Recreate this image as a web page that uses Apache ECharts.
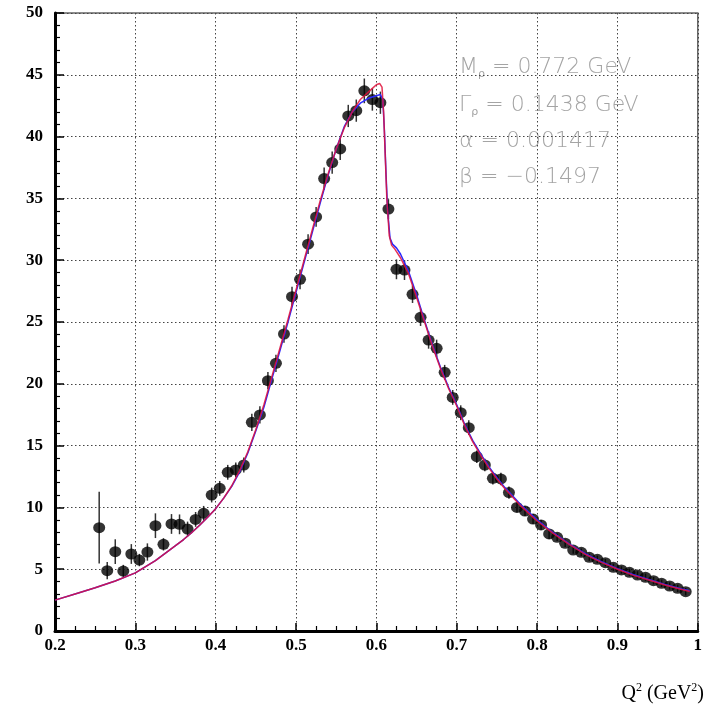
<!DOCTYPE html>
<html>
<head>
<meta charset="utf-8">
<script src="https://cdn.jsdelivr.net/npm/echarts@6/dist/echarts.min.js"></script>
<style>html,body{margin:0;padding:0;background:#fff}#c{width:705px;height:707px}</style>
</head>
<body>
<div id="c"></div>
<script>
// data points: Q^2 (GeV^2), value, error
const ptX = [0.255,0.265,0.275,0.285,0.295,0.305,0.315,0.325,0.335,0.345,0.355,0.365,0.375,0.385,0.395,0.405,0.415,0.425,0.435,0.445,0.455,0.465,0.475,0.485,0.495,0.505,0.515,0.525,0.535,0.545,0.555,0.565,0.575,0.585,0.595,0.605,0.615,0.625,0.635,0.645,0.655,0.665,0.675,0.685,0.695,0.705,0.715,0.725,0.735,0.745,0.755,0.765,0.775,0.785,0.795,0.805,0.815,0.825,0.835,0.845,0.855,0.865,0.875,0.885,0.895,0.905,0.915,0.925,0.935,0.945,0.955,0.965,0.975,0.985];
const ptY = [8.36,4.88,6.42,4.85,6.23,5.74,6.39,8.52,7.01,8.66,8.63,8.25,9.03,9.52,11.0,11.54,12.84,13.03,13.43,16.88,17.48,20.25,21.66,24.03,27.05,28.45,31.3,33.5,36.6,37.9,39.0,41.67,42.1,43.7,43.0,42.74,34.14,29.26,29.2,27.24,25.38,23.54,22.87,20.93,18.9,17.66,16.45,14.1,13.43,12.35,12.3,11.2,10.0,9.7,9.06,8.58,7.85,7.58,7.1,6.55,6.37,5.96,5.8,5.53,5.15,4.94,4.75,4.53,4.34,4.07,3.86,3.64,3.45,3.18];
const ptErr = [2.9,0.7,1.0,0.5,0.8,0.5,0.7,1.0,0.5,0.8,0.8,0.6,0.6,0.6,0.6,0.6,0.6,0.6,0.6,0.7,0.7,0.7,0.7,0.7,0.8,0.8,0.8,0.8,0.9,0.9,0.9,0.9,0.9,1.0,0.9,0.9,0.8,0.8,0.8,0.7,0.7,0.7,0.7,0.6,0.6,0.6,0.6,0.5,0.5,0.5,0.5,0.5,0.4,0.4,0.4,0.4,0.4,0.3,0.3,0.3,0.3,0.3,0.3,0.3,0.3,0.3,0.3,0.3,0.3,0.3,0.3,0.3,0.3,0.3];

// fitted curves
const redX = [0.2,0.225,0.25,0.275,0.3,0.325,0.35,0.36,0.37,0.38,0.39,0.4,0.41,0.42,0.43,0.44,0.45,0.46,0.47,0.48,0.49,0.5,0.51,0.52,0.53,0.54,0.55,0.56,0.57,0.58,0.59,0.595,0.6,0.604,0.607,0.609,0.611,0.613,0.616,0.619,0.623,0.63,0.64,0.65,0.66,0.67,0.68,0.69,0.7,0.71,0.72,0.73,0.74,0.75,0.76,0.77,0.78,0.79,0.8,0.82,0.84,0.86,0.88,0.9,0.92,0.94,0.96,0.98,0.99];
const redY = [2.5,3.0,3.5,4.05,4.7,5.7,6.9,7.4,7.95,8.55,9.2,9.9,10.75,11.75,13.0,14.5,16.3,18.3,20.6,22.9,25.2,27.6,30.0,32.4,34.8,37.0,39.0,40.7,42.0,43.0,43.6,43.9,44.2,44.3,44.0,42.0,38.5,35.0,32.0,31.2,30.9,30.2,28.9,27.0,25.0,23.0,21.2,19.6,18.2,16.6,15.3,14.2,13.2,12.3,11.5,10.8,10.1,9.5,8.9,7.9,7.0,6.2,5.55,5.0,4.5,4.1,3.7,3.35,3.2];
const blueX = [0.2,0.225,0.25,0.275,0.3,0.325,0.35,0.36,0.37,0.38,0.39,0.4,0.41,0.42,0.43,0.44,0.45,0.46,0.47,0.48,0.49,0.5,0.51,0.52,0.53,0.54,0.55,0.56,0.57,0.58,0.59,0.595,0.6,0.605,0.608,0.61,0.612,0.614,0.617,0.62,0.625,0.63,0.64,0.65,0.66,0.67,0.68,0.69,0.7,0.71,0.72,0.73,0.74,0.75,0.76,0.77,0.78,0.79,0.8,0.82,0.84,0.86,0.88,0.9,0.92,0.94,0.96,0.98,0.99];
const blueY = [2.5,3.0,3.5,4.05,4.7,5.7,6.9,7.4,7.95,8.55,9.2,9.9,10.75,11.7,12.9,14.4,16.2,18.1,20.4,22.7,25.0,27.4,29.8,32.2,34.6,36.9,39.0,40.8,42.0,42.7,43.1,43.2,43.3,43.4,43.0,40.5,37.0,34.0,31.8,31.3,31.0,30.5,29.1,27.2,25.1,23.1,21.3,19.7,18.3,16.7,15.4,14.3,13.3,12.4,11.6,10.9,10.2,9.6,9.0,7.95,7.05,6.25,5.6,5.05,4.55,4.15,3.75,3.4,3.25];

const xTickLabels = ['0.2','0.3','0.4','0.5','0.6','0.7','0.8','0.9','1'];
const yTickLabels = ['0','5','10','15','20','25','30','35','40','45','50'];
const annotations = [
  ['M', 'ρ', ' = 0.772 GeV'],
  ['Γ', 'ρ', ' = 0.1438 GeV'],
  ['α', '', ' = 0.001417'],
  ['β', '', ' = −0.1497']
];

const chart = echarts.init(document.getElementById('c'), null, {renderer: 'canvas'});
const zipPts = (xs, ys) => xs.map((x, i) => [x, ys[i]]);
const errData = ptX.map((x, i) => [x, ptY[i] - ptErr[i], ptY[i] + ptErr[i]]);
const gridStyle = {show: true, lineStyle: {type: [1.5, 2.5], color: '#444', width: 1}};
const labelFont = {fontFamily: 'Liberation Serif', fontWeight: 'bold', fontSize: 17, color: '#000'};

const annoY = [67, 105, 141, 177];
const graphics = annotations.map((a, i) => ({
  type: 'text', left: 459, top: annoY[i] - 11,
  style: {
    rich: {
      m: {fontFamily: 'DejaVu Sans', fontSize: 22, fill: '#a4a4a4', fontWeight: 'lighter'},
      s: {fontFamily: 'DejaVu Sans', fontSize: 11, fill: '#a4a4a4', padding: [14, 0, 0, 0]}
    },
    text: '{m|' + a[0] + '}' + (a[1] ? '{s|' + a[1] + '}' : '') + '{m|' + a[2] + '}'
  }
}));
graphics.push({
  type: 'text', right: 1, top: 682,
  style: {
    rich: {
      n: {fontFamily: 'Liberation Serif', fontSize: 20, fill: '#000'},
      p: {fontFamily: 'Liberation Serif', fontSize: 12, fill: '#000', padding: [0, 0, 12, 0]}
    },
    text: '{n|Q}{p|2}{n| (GeV}{p|2}{n|)}'
  }
});

chart.setOption({
  animation: false,
  backgroundColor: '#fff',
  grid: {left: 55, right: 6, top: 13, bottom: 76, show: true, borderColor: '#666', borderWidth: 1.5, backgroundColor: 'transparent'},
  xAxis: {
    type: 'value', min: 0.2, max: 1, interval: 0.1,
    axisLine: {show: true, lineStyle: {color: '#000', width: 3}},
    axisTick: {show: true, inside: true, length: 8, lineStyle: {color: '#000', width: 1.5}},
    minorTick: {show: true, splitNumber: 4, length: 5, lineStyle: {color: '#000', width: 1.2}},
    splitLine: gridStyle,
    axisLabel: Object.assign({margin: 6, formatter: v => xTickLabels[Math.round((v - 0.2) / 0.1)]}, labelFont)
  },
  yAxis: {
    type: 'value', min: 0, max: 50, interval: 5,
    axisLine: {show: true, lineStyle: {color: '#000', width: 3}},
    axisTick: {show: true, inside: true, length: 9, lineStyle: {color: '#000', width: 1.5}},
    minorTick: {show: true, splitNumber: 5, length: 5, lineStyle: {color: '#000', width: 1.2}},
    splitLine: gridStyle,
    axisLabel: Object.assign({margin: 12, formatter: v => yTickLabels[Math.round(v / 5)]}, labelFont)
  },
  graphic: graphics,
  series: [
    {
      type: 'custom', name: 'err', z: 2,
      data: errData,
      renderItem: (params, api) => {
        const p1 = api.coord([api.value(0), api.value(1)]);
        const p2 = api.coord([api.value(0), api.value(2)]);
        return {type: 'line', shape: {x1: p1[0], y1: p1[1], x2: p2[0], y2: p2[1]}, style: {stroke: '#333', lineWidth: 1.5}};
      }
    },
    {
      type: 'scatter', name: 'data', z: 3,
      symbol: 'circle', symbolSize: [12, 11],
      itemStyle: {color: '#000'},
      data: zipPts(ptX, ptY)
    },
    {
      type: 'line', name: 'blue', z: 4, showSymbol: false, smooth: false,
      lineStyle: {color: '#2a2aff', width: 1.5},
      data: zipPts(blueX, blueY)
    },
    {
      type: 'line', name: 'red', z: 5, showSymbol: false, smooth: false,
      lineStyle: {color: '#e0103a', width: 1.5, opacity: 0.85},
      data: zipPts(redX, redY)
    }
  ]
});
</script>
</body>
</html>
